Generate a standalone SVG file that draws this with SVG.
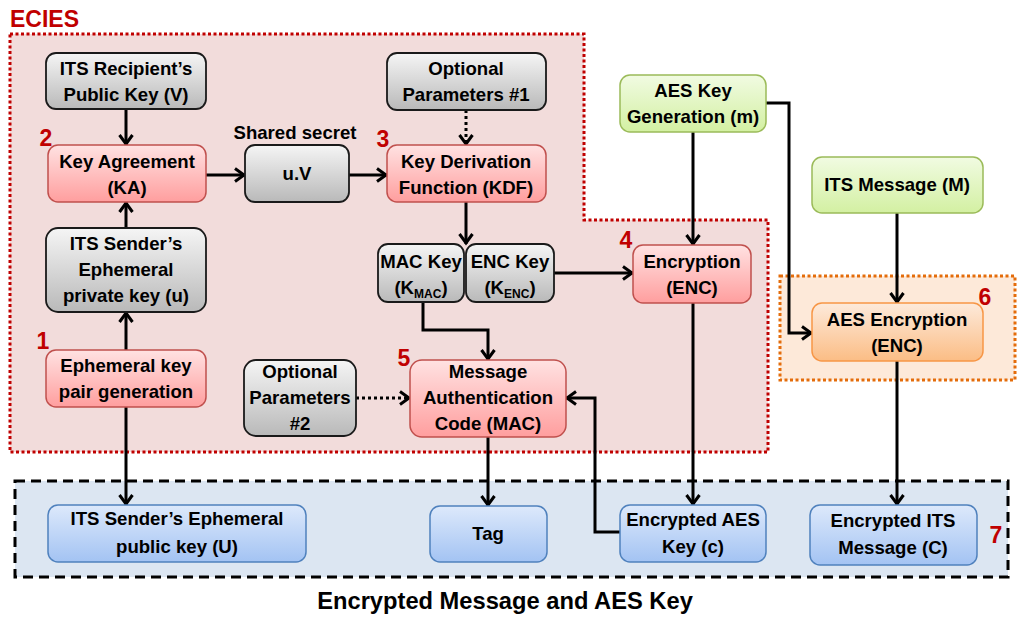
<svg xmlns="http://www.w3.org/2000/svg" width="1024" height="623" viewBox="0 0 1024 623">
<style>
.t{font-family:"Liberation Sans",Arial,sans-serif;font-weight:bold;font-size:18.6px;fill:#000;text-anchor:middle}
.num{font-family:"Liberation Sans",Arial,sans-serif;font-weight:bold;font-size:23px;fill:#c00000;text-anchor:middle}
.sub{font-size:12px}
.gray{fill:url(#gGray);stroke:#1a1a1a;stroke-width:1.8}
.pink{fill:url(#gPink);stroke:#c0504d;stroke-width:1.5}
.green{fill:url(#gGreen);stroke:#9bbb59;stroke-width:1.5}
.orange{fill:url(#gOrange);stroke:#f79646;stroke-width:1.5}
.blue{fill:url(#gBlue);stroke:#4f81bd;stroke-width:1.5}
.ln{fill:none;stroke:#000;stroke-width:3;marker-end:url(#arr)}
.dot{stroke-dasharray:3 3}
</style>
<defs>
<linearGradient id="gGray" x1="0" y1="0" x2="0" y2="1"><stop offset="0" stop-color="#f5f5f5"/><stop offset="1" stop-color="#b9b9b9"/></linearGradient>
<linearGradient id="gPink" x1="0" y1="0" x2="0" y2="1"><stop offset="0" stop-color="#ffe2e2"/><stop offset="1" stop-color="#ff9e9e"/></linearGradient>
<linearGradient id="gGreen" x1="0" y1="0" x2="0" y2="1"><stop offset="0" stop-color="#f1fbe2"/><stop offset="1" stop-color="#d3f0a2"/></linearGradient>
<linearGradient id="gOrange" x1="0" y1="0" x2="0" y2="1"><stop offset="0" stop-color="#fdeadb"/><stop offset="1" stop-color="#fbbd85"/></linearGradient>
<linearGradient id="gBlue" x1="0" y1="0" x2="0" y2="1"><stop offset="0" stop-color="#dde9fb"/><stop offset="1" stop-color="#a3c3f3"/></linearGradient>
<marker id="arr" viewBox="0 0 14 16" refX="12" refY="8" markerWidth="14" markerHeight="16" markerUnits="userSpaceOnUse" orient="auto">
<path d="M2,1.5 L11,8 L2,14.5" fill="none" stroke="#000" stroke-width="3"/>
</marker>
</defs>

<g id="regions">
<path id="ecies-region" d="M10,34 H584 V220 H768 V452 H10 Z" fill="#f2dcdb" stroke="#c00000" stroke-width="3" stroke-dasharray="3 2.5"/>
<rect id="aes-region" x="780" y="276" width="235" height="104" fill="#fde9d9" stroke="#e46c0a" stroke-width="3" stroke-dasharray="3 2.5"/>
<rect id="output-region" x="15" y="481" width="993" height="96" fill="#dce6f2" stroke="#000" stroke-width="3" stroke-dasharray="10 6"/>
</g>

<g id="labels">
<text x="10" y="27" style="font-family:'Liberation Sans',Arial,sans-serif;font-weight:bold;font-size:23px;fill:#c00000">ECIES</text>
<text class="num" x="46" y="146">2</text>
<text class="num" x="383" y="147">3</text>
<text class="num" x="43" y="349">1</text>
<text class="num" x="626" y="248">4</text>
<text class="num" x="404" y="366">5</text>
<text class="num" x="985" y="305">6</text>
<text class="num" x="996" y="543">7</text>
<text class="t" x="295" y="139">Shared secret</text>
<text x="505" y="609" style="font-family:'Liberation Sans',Arial,sans-serif;font-weight:bold;font-size:23.7px;fill:#000;text-anchor:middle">Encrypted Message and AES Key</text>
</g>

<g id="connectors">
<path class="ln" d="M126,109 V145"/>
<path class="ln" d="M126,228 V202"/>
<path class="ln" d="M126,350 V312"/>
<path class="ln" d="M126,407 V505"/>
<path class="ln" d="M206,175 H245"/>
<path class="ln" d="M349,175 H387"/>
<path class="ln dot" d="M466,110 V145"/>
<path class="ln" d="M466,202 V244"/>
<path class="ln" d="M554,273 H633"/>
<path class="ln" d="M693,132 V245"/>
<path class="ln" d="M766,103 H789 V333 H812"/>
<path class="ln" d="M897,213 V303"/>
<path class="ln" d="M897,361 V505"/>
<path class="ln" d="M693,303 V505"/>
<path class="ln" d="M423,302 V330 H488 V360"/>
<path class="ln dot" d="M356,398 H410"/>
<path class="ln" d="M620,532 H595 V398 H566"/>
<path class="ln" d="M488,437 V506"/>
</g>

<g id="n-recipient-pk"><rect class="gray" x="46" y="53" width="160" height="56" rx="10"/>
<text class="t" x="126" y="75">ITS Recipient’s</text><text class="t" x="126" y="101">Public Key (V)</text></g>

<g id="n-ka"><rect class="pink" x="48" y="145" width="158" height="57" rx="10"/>
<text class="t" x="127" y="168">Key Agreement</text><text class="t" x="127" y="194">(KA)</text></g>

<g id="n-uv"><rect class="gray" x="245" y="145" width="104" height="57" rx="10"/>
<text class="t" x="297" y="180">u.V</text></g>

<g id="n-opt1"><rect class="gray" x="387" y="53" width="159" height="57" rx="10"/>
<text class="t" x="466" y="75">Optional</text><text class="t" x="466" y="101">Parameters #1</text></g>

<g id="n-kdf"><rect class="pink" x="387" y="145" width="159" height="57" rx="10"/>
<text class="t" x="466" y="168">Key Derivation</text><text class="t" x="466" y="194">Function (KDF)</text></g>

<g id="n-aeskg"><rect class="green" x="620" y="75" width="146" height="57" rx="10"/>
<text class="t" x="693" y="97">AES Key</text><text class="t" x="693" y="123">Generation (m)</text></g>

<g id="n-itsmsg"><rect class="green" x="812" y="157" width="171" height="56" rx="10"/>
<text class="t" x="897" y="191">ITS Message (M)</text></g>

<g id="n-privkey"><rect class="gray" x="46" y="228" width="160" height="84" rx="12"/>
<text class="t" x="126" y="250">ITS Sender’s</text><text class="t" x="126" y="276">Ephemeral</text><text class="t" x="126" y="302">private key (u)</text></g>

<g id="n-ekpg"><rect class="pink" x="46" y="350" width="160" height="57" rx="10"/>
<text class="t" x="126" y="372">Ephemeral key</text><text class="t" x="126" y="398">pair generation</text></g>

<g id="n-mackey"><rect class="gray" x="378" y="244" width="86" height="58" rx="10"/>
<text class="t" x="421" y="268">MAC Key</text><text class="t" x="421" y="294">(K<tspan class="sub" dy="4">MAC</tspan><tspan dy="-4">)</tspan></text></g>

<g id="n-enckey"><rect class="gray" x="466" y="244" width="88" height="58" rx="10"/>
<text class="t" x="510" y="268">ENC Key</text><text class="t" x="510" y="294">(K<tspan class="sub" dy="4">ENC</tspan><tspan dy="-4">)</tspan></text></g>

<g id="n-enc"><rect class="pink" x="633" y="245" width="118" height="58" rx="10"/>
<text class="t" x="692" y="268">Encryption</text><text class="t" x="692" y="294">(ENC)</text></g>

<g id="n-opt2"><rect class="gray" x="244" y="360" width="112" height="76" rx="12"/>
<text class="t" x="300" y="378">Optional</text><text class="t" x="300" y="404">Parameters</text><text class="t" x="300" y="430">#2</text></g>

<g id="n-mac"><rect class="pink" x="410" y="360" width="156" height="77" rx="12"/>
<text class="t" x="488" y="378">Message</text><text class="t" x="488" y="404">Authentication</text><text class="t" x="488" y="430">Code (MAC)</text></g>

<g id="n-aesenc"><rect class="orange" x="812" y="303" width="171" height="58" rx="10"/>
<text class="t" x="897" y="326">AES Encryption</text><text class="t" x="897" y="352">(ENC)</text></g>

<g id="n-pubkey"><rect class="blue" x="48" y="505" width="258" height="57" rx="10"/>
<text class="t" x="177" y="525">ITS Sender’s Ephemeral</text><text class="t" x="177" y="553">public key (U)</text></g>

<g id="n-tag"><rect class="blue" x="430" y="506" width="117" height="56" rx="10"/>
<text class="t" x="488" y="540">Tag</text></g>

<g id="n-encaeskey"><rect class="blue" x="620" y="505" width="146" height="57" rx="10"/>
<text class="t" x="693" y="526">Encrypted AES</text><text class="t" x="693" y="553">Key (c)</text></g>

<g id="n-encmsg"><rect class="blue" x="810" y="505" width="167" height="60" rx="10"/>
<text class="t" x="893" y="527">Encrypted ITS</text><text class="t" x="893" y="554">Message (C)</text></g>
</svg>
